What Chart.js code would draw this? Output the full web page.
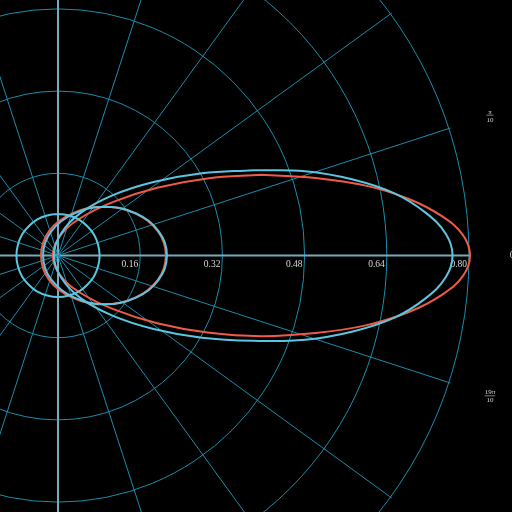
<!DOCTYPE html>
<html>
<head>
<meta charset="utf-8">
<script src="https://cdn.jsdelivr.net/npm/chart.js@4"></script>
<style>
  html, body { margin: 0; padding: 0; background: #000; }
  canvas { display: block; }
</style>
</head>
<body>
<canvas id="orbitChart" width="512" height="512"></canvas>
<script>
// radial grid values and angle ticks (multiples of pi/10)
const ringValues = [0.16, 0.32, 0.48, 0.64, 0.80];
const ringLabels = ['0.16', '0.32', '0.48', '0.64', '0.80'];
const angleSteps = [0, 1, 2, 3, 4, 5, 6, 7, 8, 9, 10, 11, 12, 13, 14, 15, 16, 17, 18, 19];
const outerRadius = 0.80;

// curves (x, y in radial units)
const bigBlueX = [0.380, 0.280, 0.186, 0.106, 0.044, 0.006, -0.008, 0.006, 0.044, 0.106, 0.186, 0.280, 0.380,
                  0.481, 0.574, 0.655, 0.716, 0.755, 0.768, 0.755, 0.716, 0.655, 0.574, 0.481, 0.380];
const bigBlueY = [0.166, 0.160, 0.143, 0.117, 0.083, 0.043, 0, -0.043, -0.083, -0.117, -0.143, -0.160, -0.166,
                  -0.164, -0.148, -0.121, -0.083, -0.042, 0, 0.042, 0.083, 0.121, 0.148, 0.164, 0.166];

const bigRedX = [0.396, 0.291, 0.193, 0.109, 0.044, 0.004, -0.010, 0.004, 0.044, 0.109, 0.193, 0.291, 0.396,
                 0.501, 0.599, 0.683, 0.748, 0.788, 0.802, 0.788, 0.748, 0.683, 0.599, 0.501, 0.396];
const bigRedY = [0.157, 0.150, 0.132, 0.105, 0.073, 0.038, 0, -0.038, -0.073, -0.105, -0.132, -0.150, -0.157,
                 -0.151, -0.136, -0.110, -0.076, -0.040, 0, 0.040, 0.076, 0.110, 0.136, 0.151, 0.157];

const midBlueX = [0.092, 0.061, 0.032, 0.007, -0.013, -0.025, -0.029, -0.025, -0.013, 0.007, 0.032, 0.061, 0.092,
                  0.123, 0.152, 0.177, 0.196, 0.208, 0.212, 0.208, 0.196, 0.177, 0.152, 0.123, 0.092];
const midBlueY = [0.095, 0.092, 0.082, 0.067, 0.047, 0.025, 0, -0.025, -0.047, -0.067, -0.082, -0.092, -0.095,
                  -0.092, -0.082, -0.067, -0.047, -0.025, 0, 0.025, 0.047, 0.067, 0.082, 0.092, 0.095];

const midRedX = [0.089, 0.057, 0.028, 0.002, -0.017, -0.029, -0.033, -0.029, -0.017, 0.002, 0.028, 0.057, 0.089,
                 0.120, 0.150, 0.175, 0.194, 0.206, 0.210, 0.206, 0.194, 0.175, 0.150, 0.120, 0.089];
const midRedY = [0.095, 0.092, 0.082, 0.067, 0.048, 0.025, 0, -0.025, -0.048, -0.067, -0.082, -0.092, -0.095,
                 -0.092, -0.082, -0.067, -0.048, -0.025, 0, 0.025, 0.048, 0.067, 0.082, 0.092, 0.095];

const smallBlueX = [0, -0.021, -0.041, -0.057, -0.070, -0.078, -0.081, -0.078, -0.070, -0.057, -0.041, -0.021, 0,
                    0.021, 0.041, 0.057, 0.070, 0.078, 0.081, 0.078, 0.070, 0.057, 0.041, 0.021, 0];
const smallBlueY = [0.081, 0.078, 0.070, 0.057, 0.041, 0.021, 0, -0.021, -0.041, -0.057, -0.070, -0.078, -0.081,
                    -0.078, -0.070, -0.057, -0.041, -0.021, 0, 0.021, 0.041, 0.057, 0.070, 0.078, 0.081];

const BLUE = '#5cc6e0';
const RED = '#f05a48';
const GRID = '#1a8dad';
const AXIS = '#78aabb';
const TEXT = '#d8d8d8';

function toPoints(xs, ys) {
    return xs.map((x, i) => ({ x: x, y: ys[i] }));
}

function curve(xs, ys, color) {
    return {
        data: toPoints(xs, ys),
        borderColor: color,
        borderWidth: 2,
        showLine: true,
        fill: false,
        pointRadius: 0,
        tension: 0.4
    };
}

function angleLabel(k) {
    if (k === 0) return null;
    return { num: (k === 1 ? '' : k) + 'π', den: '10' };
}

const polarGrid = {
    id: 'polarGrid',
    beforeDatasetsDraw(chart) {
        const ctx = chart.ctx;
        const xs = chart.scales.x;
        const ys = chart.scales.y;
        const cx = xs.getPixelForValue(0);
        const cy = ys.getPixelForValue(0);
        const unit = xs.getPixelForValue(1) - cx;

        ctx.save();
        ctx.strokeStyle = GRID;
        ctx.lineWidth = 1;
        ringValues.forEach(r => {
            ctx.beginPath();
            ctx.arc(cx, cy, r * unit, 0, Math.PI * 2);
            ctx.stroke();
        });

        angleSteps.forEach(k => {
            const a = k * Math.PI / 10;
            const isAxis = k % 5 === 0;
            ctx.strokeStyle = isAxis ? AXIS : GRID;
            ctx.lineWidth = isAxis ? 2 : 1;
            ctx.beginPath();
            ctx.moveTo(cx, cy);
            ctx.lineTo(cx + Math.cos(a) * outerRadius * unit * 1.004, cy - Math.sin(a) * outerRadius * unit * 1.004);
            ctx.stroke();
        });

        // radial tick labels along theta = 0
        ctx.fillStyle = TEXT;
        ctx.font = '9.5px "Liberation Serif", serif';
        ctx.textAlign = 'right';
        ctx.textBaseline = 'top';
        ringValues.forEach((r, i) => {
            ctx.fillText(ringLabels[i], cx + r * unit - 2, cy + 4);
        });

        // angle labels
        const labelR = 0.884 * unit;
        angleSteps.forEach(k => {
            const a = k * Math.PI / 10;
            const px = cx + Math.cos(a) * labelR;
            const py = cy - Math.sin(a) * labelR;
            const lab = angleLabel(k);
            ctx.textAlign = 'center';
            if (!lab) {
                ctx.font = '10px "Liberation Serif", serif';
                ctx.textBaseline = 'middle';
                ctx.fillText('0', px, py);
                return;
            }
            ctx.font = '7px "Liberation Serif", serif';
            ctx.textBaseline = 'alphabetic';
            ctx.fillText(lab.num, px, py - 1.5);
            ctx.textBaseline = 'top';
            ctx.fillText(lab.den, px, py + 1);
            const w = Math.max(ctx.measureText(lab.num).width, ctx.measureText(lab.den).width);
            ctx.strokeStyle = TEXT;
            ctx.lineWidth = 0.6;
            ctx.beginPath();
            ctx.moveTo(px - w / 2, py);
            ctx.lineTo(px + w / 2, py);
            ctx.stroke();
        });
        ctx.restore();
    }
};

// view window: origin at (58, 255.5) px, 513.75 px per unit
const pxPerUnit = 513.75;
const xMin = -58 / pxPerUnit;
const xMax = xMin + 512 / pxPerUnit;
const yMax = 255.5 / pxPerUnit;
const yMin = yMax - 512 / pxPerUnit;

new Chart(document.getElementById('orbitChart').getContext('2d'), {
    type: 'scatter',
    data: {
        datasets: [
            curve(smallBlueX, smallBlueY, BLUE),
            curve(midBlueX, midBlueY, BLUE),
            curve(bigBlueX, bigBlueY, BLUE),
            curve(midRedX, midRedY, RED),
            curve(bigRedX, bigRedY, RED)
        ]
    },
    options: {
        responsive: false,
        animation: false,
        devicePixelRatio: 1,
        layout: { padding: 0 },
        plugins: {
            legend: { display: false },
            tooltip: { enabled: false }
        },
        scales: {
            x: { type: 'linear', min: xMin, max: xMax, display: false },
            y: { type: 'linear', min: yMin, max: yMax, display: false }
        }
    },
    plugins: [polarGrid]
});
</script>
</body>
</html>
